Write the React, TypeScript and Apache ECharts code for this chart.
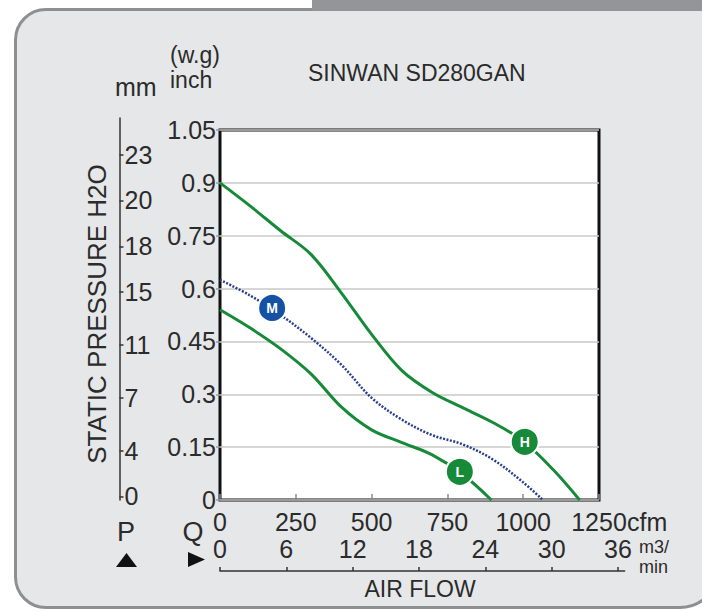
import React, { useEffect, useRef } from "react";
import * as echarts from "echarts";

// ---- data (airflow in cfm, static pressure in inch H2O) ----
const highCfm = [0, 100, 200, 300, 400, 500, 600, 700, 800, 900, 1000, 1100, 1186];
const highInch = [0.9, 0.834, 0.764, 0.697, 0.588, 0.47, 0.367, 0.305, 0.262, 0.22, 0.167, 0.085, 0];

const medCfm = [0, 100, 200, 300, 400, 500, 600, 700, 800, 900, 1000, 1065];
const medInch = [0.625, 0.58, 0.525, 0.46, 0.384, 0.29, 0.228, 0.184, 0.158, 0.115, 0.05, 0];

const lowCfm = [0, 100, 200, 300, 400, 500, 600, 700, 800, 895];
const lowInch = [0.54, 0.488, 0.429, 0.358, 0.264, 0.199, 0.163, 0.128, 0.073, 0];

const markerLabels = ["H", "M", "L"];
const markerCfm = [1005, 172, 791];
const markerInch = [0.165, 0.545, 0.08];

// ---- tick labels ----
const pressureTicks = [0, 0.15, 0.3, 0.45, 0.6, 0.75, 0.9, 1.05];
const cfmTicks = [0, 250, 500, 750, 1000, 1250];
const m3Ticks = [0, 6, 12, 18, 24, 30, 36];
const mmLabels = ["0", "4", "7", "11", "15", "18", "20", "23"];
const mmTickInch = [0.01, 0.14, 0.29, 0.44, 0.59, 0.72, 0.85, 0.98];

const FONT = "'Liberation Sans', Arial, Helvetica, sans-serif";
const TXT = "#2b2b2b";
const GREEN = "#178a3a";
const BLUE = "#1552a3";
const markerColor: Record<string, string> = { H: GREEN, M: BLUE, L: GREEN };

function txt(text: string, x: number, y: number, size: number, align = "left", extra: any = {}) {
  return {
    type: "text",
    x,
    y,
    ...extra,
    style: {
      text,
      fill: TXT,
      fontSize: size,
      fontFamily: FONT,
      align,
      verticalAlign: "middle",
      textAlign: align,
      textVerticalAlign: "middle",
    },
  };
}

export default function App() {
  const ref = useRef<HTMLDivElement>(null);
  useEffect(() => {
    const chart = echarts.init(ref.current!, null, { renderer: "svg" });
    const line = (xs: number[], ys: number[], color: string, type: any, width: number) => ({
      type: "line",
      xAxisIndex: 0,
      yAxisIndex: 0,
      data: xs.map((x, i) => [x, ys[i]]),
      smooth: 0.35,
      symbol: "none",
      showSymbol: false,
      lineStyle: { color, width, type },
      z: 3,
    });
    const option: any = {
      animation: false,
      backgroundColor: "transparent",
      grid: [
        { left: 220, top: 130, width: 379, height: 370, show: true, backgroundColor: "#ffffff", borderColor: "#111", borderWidth: 3, outerBoundsMode: "none" },
        { left: 119.5, top: 118, width: 10, height: 382, outerBoundsMode: "none" },
        { left: 220, top: 560, width: 404.6, height: 11, outerBoundsMode: "none" },
      ],
      xAxis: [
        {
          type: "value",
          gridIndex: 0,
          min: 0,
          max: 1250,
          interval: 250,
          axisLine: { show: false, onZero: false },
          axisTick: { show: true, inside: true, length: 6, lineStyle: { color: "#8a8a8a", width: 1.5 } },
          axisLabel: { customValues: cfmTicks, fontSize: 25, margin: 9, color: TXT, fontFamily: FONT, formatter: (v: number) => String(v) },
          splitLine: { show: false },
        },
        {
          type: "value",
          gridIndex: 2,
          min: 0,
          max: 36.6,
          axisLine: { show: true, onZero: false, lineStyle: { color: "#333", width: 1.5 } },
          axisTick: { show: true, inside: true, length: 4, customValues: m3Ticks, lineStyle: { color: "#333", width: 1.5 } },
          axisLabel: { inside: true, customValues: m3Ticks, fontSize: 25, margin: 10, color: TXT, fontFamily: FONT, formatter: (v: number) => String(v) },
          splitLine: { show: false },
        },
        { type: "value", gridIndex: 1, min: 0, max: 1, show: false },
      ],
      yAxis: [
        {
          type: "value",
          gridIndex: 0,
          min: 0,
          max: 1.05,
          interval: 0.15,
          axisLine: { show: false, onZero: false },
          axisTick: { show: true, length: 4, lineStyle: { color: "#9a9a9a", width: 1.5 } },
          axisLabel: {
            customValues: pressureTicks,
            fontSize: 25,
            margin: 4,
            color: TXT,
            fontFamily: FONT,
            formatter: (v: number) => String(+Number(v).toFixed(2)),
          },
          splitLine: { show: true, lineStyle: { color: "#c9c9c9", width: 1.5 } },
        },
        {
          type: "value",
          gridIndex: 1,
          position: "left",
          min: 0,
          max: 1.084,
          axisLine: { show: true, onZero: false, lineStyle: { color: "#333", width: 1.5 } },
          axisTick: { show: true, inside: true, length: 4, customValues: mmTickInch, lineStyle: { color: "#333", width: 1.5 } },
          axisLabel: {
            inside: true,
            customValues: mmTickInch,
            margin: 5,
            fontSize: 25,
            color: TXT,
            fontFamily: FONT,
            formatter: (v: number) => {
              const i = mmTickInch.findIndex((t) => Math.abs(t - v) < 1e-6);
              return i >= 0 ? mmLabels[i] : "";
            },
          },
          splitLine: { show: false },
        },
        { type: "value", gridIndex: 2, min: 0, max: 1, show: false },
      ],
      series: [
        line(highCfm, highInch, GREEN, "solid", 3),
        line(medCfm, medInch, "#2a3f8e", [2, 1.5], 2.5),
        line(lowCfm, lowInch, GREEN, "solid", 3),
        {
          type: "scatter",
          xAxisIndex: 0,
          yAxisIndex: 0,
          z: 5,
          symbol: "circle",
          symbolSize: 28,
          data: markerLabels.map((l, i) => ({
            name: l,
            value: [markerCfm[i], markerInch[i]],
            itemStyle: { color: markerColor[l], borderColor: "#fff", borderWidth: 2, opacity: 1 },
          })),
          itemStyle: { opacity: 1 },
          label: {
            show: true,
            position: "inside",
            formatter: "{b}",
            color: "#fff",
            fontWeight: "bold",
            fontSize: 14,
            fontFamily: FONT,
          },
        },
      ],
      graphic: [
        txt("mm", 115, 87, 25),
        txt("(w.g)", 170, 55, 23),
        txt("inch", 170, 80, 23),
        txt("SINWAN SD280GAN", 308, 73, 23),
        txt("STATIC PRESSURE H2O", 97, 314, 26, "center", { rotation: Math.PI / 2 }),
        txt("P", 126, 532, 27, "center"),
        txt("Q", 193, 532, 27, "center"),
        {
          type: "polygon",
          shape: { points: [[116, 567], [137, 567], [126.5, 553]] },
          style: { fill: "#111" },
        },
        {
          type: "polygon",
          shape: { points: [[188, 552], [188, 567], [205, 559.5]] },
          style: { fill: "#111" },
        },
        txt("cfm", 627, 522, 25),
        txt("m3/", 639, 547, 18),
        txt("min", 639, 567, 18),
        txt("AIR FLOW", 420, 589, 23, "center"),
      ],
    };
    chart.setOption(option);
    return () => chart.dispose();
  }, []);
  return (
    <div style={{ position: "fixed", left: 0, top: 0, width: 702, height: 612, background: "#fff", overflow: "hidden" }}>
      <div
        style={{
          position: "absolute",
          left: 14,
          top: 8,
          width: 706,
          height: 601,
          boxSizing: "border-box",
          borderTop: "3px solid #8f8f8f",
          borderLeft: "3px solid #8f8f8f",
          borderBottom: "3px solid #8f8f8f",
          borderRight: "3px solid #8f8f8f",
          borderTopRightRadius: 0,
          borderTopLeftRadius: 32,
          borderBottomLeftRadius: 32,
          borderBottomRightRadius: 40,
          background: "#e6e7e9",
        }}
      />
      <div style={{ position: "absolute", left: 312, top: 0, width: 390, height: 11, background: "#939598" }} />
      <div ref={ref} style={{ position: "absolute", left: 0, top: 0, width: 702, height: 612 }} />
    </div>
  );
}
